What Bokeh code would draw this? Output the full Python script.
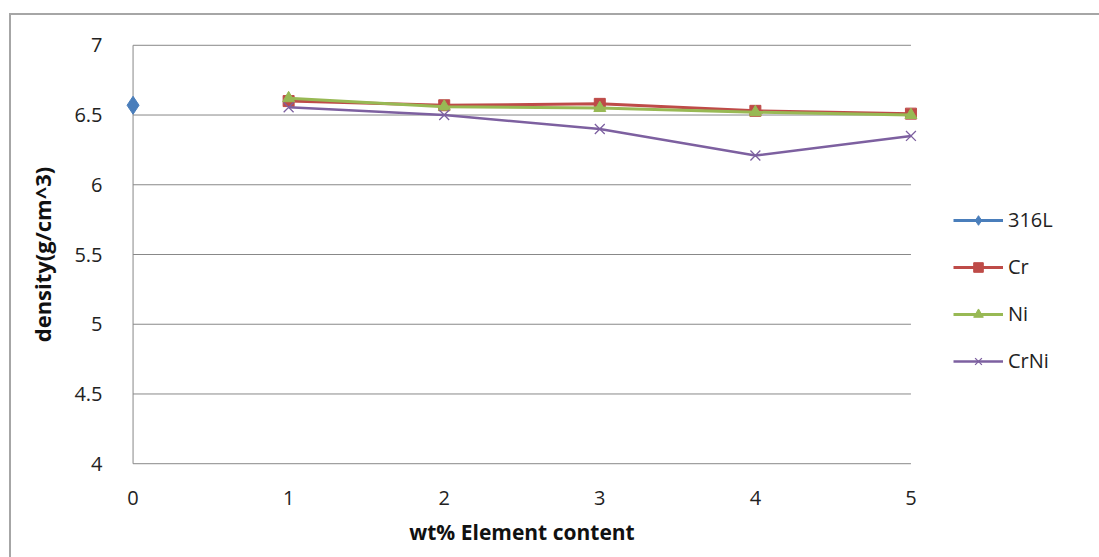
from bokeh.plotting import figure
from bokeh.models import Legend, LegendItem, FixedTicker, Range1d
from bokeh.embed import file_html
from bokeh.resources import INLINE

x_316L = [0]
y_316L = [6.57]
x_el = [1, 2, 3, 4, 5]
y_cr = [6.60, 6.57, 6.58, 6.53, 6.51]
y_ni = [6.62, 6.56, 6.55, 6.52, 6.50]
y_crni = [6.555, 6.50, 6.40, 6.21, 6.35]
x_ticks = [0, 1, 2, 3, 4, 5]
y_ticks = [4, 4.5, 5, 5.5, 6, 6.5, 7]

FONT = "Open Sans"
GRID = "#888888"
p = figure(frame_width=809, frame_height=424, output_backend="svg", toolbar_location=None,
           x_range=Range1d(-0.1, 5.1), y_range=Range1d(3.98, 7.02),
           min_border_left=106, min_border_right=0, min_border_top=27, min_border_bottom=91,
           margin=(13, 0, 0, 9),
           styles={"border-top": "2px solid #a6a6a6", "border-left": "2px solid #a6a6a6"})
p.outline_line_color = None
p.background_fill_color = "white"
p.border_fill_color = "white"
p.xgrid.grid_line_color = None
p.ygrid.grid_line_color = None

for ax in (p.xaxis[0], p.yaxis[0]):
    ax.axis_line_color = None
    ax.major_tick_line_color = None
    ax.minor_tick_line_color = None
    ax.major_label_text_font = FONT
    ax.major_label_text_font_size = "20px"
    ax.major_label_text_color = "#222222"
    ax.axis_label_text_font = FONT
    ax.axis_label_text_font_style = "bold"
    ax.axis_label_text_color = "#111111"

p.xaxis.ticker = FixedTicker(ticks=x_ticks)
p.yaxis.ticker = FixedTicker(ticks=y_ticks)
p.xaxis.major_label_standoff = 18
p.yaxis.major_label_standoff = 9
p.xaxis.axis_label = "wt% Element content"
p.yaxis.axis_label = "density(g/cm^3)"
p.xaxis.axis_label_text_font_size = "21px"
p.yaxis.axis_label_text_font_size = "22px"
p.xaxis.axis_label_standoff = 10
p.yaxis.axis_label_standoff = 14

# horizontal gridlines and left axis line, spanning the tick extent
p.segment(x0=x_ticks[0], x1=x_ticks[-1], y0=y_ticks, y1=y_ticks, line_color=GRID, line_width=1)
p.segment(x0=x_ticks[0], x1=x_ticks[0], y0=y_ticks[0], y1=y_ticks[-1], line_color=GRID, line_width=1)

blue, red, green, purple = "#4A7EBB", "#BE4B48", "#98B954", "#7D60A0"

l1 = p.line(x_316L, y_316L, color=blue, line_width=3)
r1 = p.scatter(x_316L, y_316L, marker="diamond", size=18, color=blue)

l2 = p.line(x_el, y_cr, color=red, line_width=3)
r2 = p.scatter(x_el, y_cr, marker="square", size=11, color=red)

l3 = p.line(x_el, y_ni, color=green, line_width=3)
r3 = p.scatter(x_el, y_ni, marker="triangle", size=12, color=green)

l4 = p.line(x_el, y_crni, color=purple, line_width=2.5)
r4 = p.scatter(x_el, y_crni, marker="x", size=14, line_color=purple, line_width=1.3)

legend = Legend(items=[
    LegendItem(label="316L", renderers=[l1, r1]),
    LegendItem(label="Cr", renderers=[l2, r2]),
    LegendItem(label="Ni", renderers=[l3, r3]),
    LegendItem(label="CrNi", renderers=[l4, r4]),
], location=(27, 92))
legend.border_line_color = None
legend.background_fill_alpha = 0
legend.label_text_font = FONT
legend.label_text_font_size = "20px"
legend.label_text_color = "#222222"
legend.glyph_width = 50
legend.glyph_height = 24
legend.label_height = 24
legend.label_standoff = 5
legend.spacing = 20
legend.padding = 0
legend.margin = 0
p.add_layout(legend, "right")

open("out.html", "w").write(file_html(p, INLINE))
